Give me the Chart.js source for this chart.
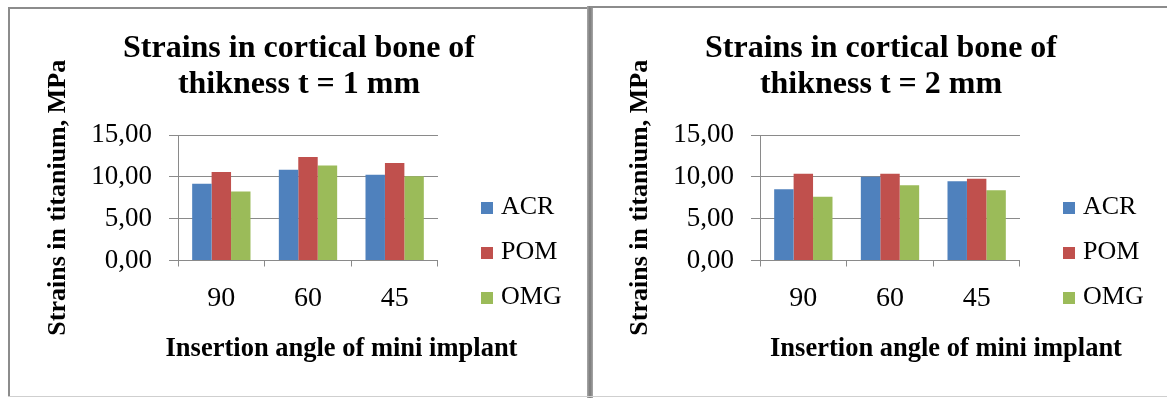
<!DOCTYPE html>
<html>
<head>
<meta charset="utf-8">
<script src="https://cdn.jsdelivr.net/npm/chart.js@4/dist/chart.umd.min.js"></script>
<style>
  html, body { margin: 0; padding: 0; background: #fff; overflow: hidden; }
  body { width: 1167px; height: 399px; position: relative; }
  .ln { position: absolute; background: #8c8c8c; }
  canvas { position: absolute; }
</style>
</head>
<body>
<div class="ln" style="left:8px;top:7px;width:2px;height:390px;"></div>
<div class="ln" style="left:8px;top:7px;width:582px;height:2px;"></div>
<div class="ln" style="left:587px;top:6px;width:6px;height:392px;background:linear-gradient(to right,#a8a8a8,#7a7a7a 50%,#a8a8a8);"></div>
<div class="ln" style="left:590px;top:6px;width:577px;height:2px;"></div>
<div class="ln" style="left:8px;top:396px;width:1159px;height:1px;background:#cfcfcf;"></div>
<canvas id="c1" width="578" height="387" style="left:9px;top:9px;width:578px;height:387px;"></canvas>
<canvas id="c2" width="578" height="387" style="left:591px;top:9px;width:578px;height:387px;"></canvas>
<script>
// ---- data ----
const categories = ['90', '60', '45'];
const seriesNames = ['ACR', 'POM', 'OMG'];
const seriesColors = ['#4F81BD', '#C0504D', '#9BBB59'];
const yTicks = [0, 5, 10, 15];

const title1 = ['Strains in cortical bone of', 'thikness t = 1 mm'];
const acr1 = [9.18, 10.86, 10.26];
const pom1 = [10.58, 12.38, 11.66];
const omg1 = [8.26, 11.34, 10.06];

const title2 = ['Strains in cortical bone of', 'thikness t = 2 mm'];
const acr2 = [8.52, 10.00, 9.48];
const pom2 = [10.38, 10.38, 9.76];
const omg2 = [7.62, 9.00, 8.40];

const yTitle = 'Strains in titanium, MPa';
const xTitle = 'Insertion angle of mini implant';

// ---- style ----
const FAMILY = '"Liberation Serif", "Times New Roman", Times, serif';
Chart.defaults.font.family = FAMILY;
Chart.defaults.color = '#000';
const GRID = '#8a8a8a';

function swatch(color) {
  // transparent left part places the visible square like the original legend
  const c = document.createElement('canvas');
  c.width = 41; c.height = 12;
  const g = c.getContext('2d');
  g.fillStyle = color;
  g.fillRect(29, 0, 12, 12);
  return c;
}
const swatches = seriesColors.map(swatch);

// moves the bottom axis-title block sideways, as in the original layout
const shiftAxisTitle = {
  id: 'shiftAxisTitle',
  afterLayout(chart, args, opts) {
    chart.boxes.forEach(b => {
      if (b.options && b.options.text === xTitle && b.options.position === 'bottom') {
        b.left += opts.dx; b.right += opts.dx;
      }
    });
  }
};

function makeChart(id, titleLines, values, dx) {
  return new Chart(document.getElementById(id), {
    type: 'bar',
    plugins: [shiftAxisTitle],
    data: {
      labels: categories,
      datasets: seriesNames.map((name, i) => ({
        label: name,
        data: values[i],
        backgroundColor: seriesColors[i],
        borderWidth: 0,
        categoryPercentage: 0.673,
        barPercentage: 1.0
      }))
    },
    options: {
      responsive: false,
      animation: false,
      devicePixelRatio: 1,
      layout: { padding: { left: 17.34, right: 15.34, top: 0, bottom: 0 } },
      plugins: {
        tooltip: { enabled: false },
        shiftAxisTitle: { dx: dx },
        title: {
          display: true,
          text: titleLines,
          color: '#000',
          font: { family: FAMILY, size: 32, weight: 'bold', lineHeight: 1.14 },
          padding: { top: 21.26, bottom: 31.78 }
        },
        subtitle: {
          display: true,
          position: 'bottom',
          text: xTitle,
          color: '#000',
          font: { family: FAMILY, size: 26.5, weight: 'bold', lineHeight: 1.2 },
          padding: { top: 17.36, bottom: 31.04 }
        },
        legend: {
          display: true,
          position: 'right',
          align: 'start',
          title: { display: true, text: '', font: { size: 10, lineHeight: 1 }, padding: { top: 156.5, bottom: 0 } },
          labels: {
            color: '#000',
            font: { family: FAMILY, size: 26 },
            usePointStyle: true,
            pointStyleWidth: 31,
            boxHeight: 12,
            padding: 19,
            generateLabels(chart) {
              const items = Chart.defaults.plugins.legend.labels.generateLabels(chart);
              items.forEach((it, i) => { it.pointStyle = swatches[i]; });
              return items;
            }
          }
        }
      },
      scales: {
        x: {
          offset: true,
          afterFit(s) { s.height = 55.3; },
          grid: { display: true, offset: true, drawOnChartArea: false, drawTicks: true, tickLength: 6, color: GRID },
          border: { display: true, color: GRID },
          ticks: { font: { family: FAMILY, size: 28 }, color: '#000', padding: 15.7, maxRotation: 0, autoSkip: false }
        },
        y: {
          min: 0, max: 15,
          afterBuildTicks(scale) { scale.ticks = yTicks.map(v => ({ value: v })); },
          afterFit(s) { s.width = 151.66; },
          grid: { color: GRID, drawTicks: true, tickLength: 9 },
          border: { display: true, color: GRID },
          ticks: {
            font: { family: FAMILY, size: 27 }, color: '#000', padding: 17,
            callback: v => Number(v).toFixed(2).replace('.', ',')
          },
          title: {
            display: true, text: yTitle,
            font: { family: FAMILY, size: 26, weight: 'bold', lineHeight: 1.2 },
            padding: { top: 16.06, bottom: 0 }, color: '#000'
          }
        }
      }
    }
  });
}

makeChart('c1', title1, [acr1, pom1, omg1], 42.5);
makeChart('c2', title2, [acr2, pom2, omg2], 65);
</script>
</body>
</html>
